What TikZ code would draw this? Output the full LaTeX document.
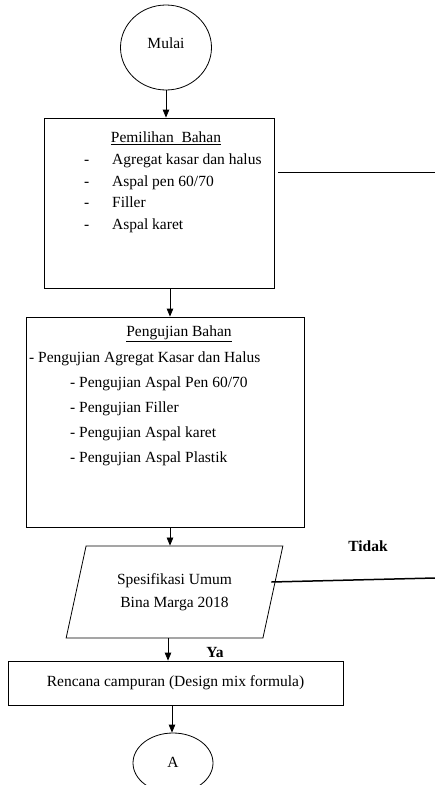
\documentclass[tikz,border=0pt]{standalone}
\usepackage{fontspec}
\setmainfont{Liberation Serif}
\usetikzlibrary{positioning, shapes.geometric, arrows.meta}

\begin{document}
\begin{tikzpicture}
    [x=1pt, y=-1pt,
    every node/.style={font=\fontsize{15.5pt}{22pt}\selectfont, inner sep=0pt},
    terminal/.style={ellipse, draw, line width=0.8pt},
    process/.style={rectangle, draw, line width=0.8pt},
    inout/.style={trapezium, draw, line width=0.8pt, trapezium left angle=72,
    trapezium right angle=108, trapezium stretches=true, inner sep=2pt},
    listing/.style={align=left, anchor=north west},
    answer/.style={font=\fontsize{15.5pt}{18pt}\selectfont\bfseries},
    arrow/.style={line width=0.8pt, -{Triangle[length=8pt, width=6.5pt]}}]
    \useasboundingbox (0,0) rectangle (435,785);
    \clip (0,0) rectangle (435,785);

    \node [terminal, minimum width=91pt, minimum height=85pt] (mulai) at (166,47.5) {};
    \node (mulai_text) at (166,43) {Mulai};

    % pemilihan bahan
    \node [process, minimum width=230pt, minimum height=170pt] (pemilihan) at (159,203) {};
    \node (pemilihan_title) at (166,138) {\underline{Pemilihan\ \ Bahan}};
    \node [listing, font=\fontsize{15.5pt}{21.5pt}\selectfont] (pemilihan_list) at (84,154)
    {\makebox[28pt][l]{-}Agregat kasar dan halus\\
    \makebox[28pt][l]{-}Aspal pen 60/70\\
    \makebox[28pt][l]{-}Filler\\
    \makebox[28pt][l]{-}Aspal karet};

    % pengujian bahan
    \node [process, minimum width=278pt, minimum height=210pt] (pengujian) at (165,422) {};
    \node (pengujian_title) at (179,334) {\underline{Pengujian Bahan}};
    \node [listing, font=\fontsize{15.5pt}{25pt}\selectfont] (pengujian_list) at (29,352)
    {- Pengujian Agregat Kasar dan Halus\\
    \hspace*{41pt}- Pengujian Aspal Pen 60/70\\
    \hspace*{41pt}- Pengujian Filler\\
    \hspace*{41pt}- Pengujian Aspal karet\\
    \hspace*{41pt}- Pengujian Aspal Plastik};

    % spesifikasi
    \node [inout, minimum width=217pt, minimum height=92pt, align=center,
    font=\fontsize{15.5pt}{23pt}\selectfont] (spesifikasi) at (174.5,592)
    {Spesifikasi Umum\\Bina Marga 2018};

    \node [process, minimum width=335pt, minimum height=44pt] (rencana) at (175.5,683)
    {Rencana campuran (Design mix formula)};
    \node [terminal, minimum width=80pt, minimum height=60pt] (a) at (173,763) {};
    \node (a_text) at (173,762) {A};

    \coordinate (back_top) at (435,172);
    \coordinate (back_bottom) at (435,578);

    \draw [arrow] (mulai.south) -- (mulai.south |- pemilihan.north);
    \draw [arrow] ([xshift=11pt]pemilihan.south) -- ([xshift=11pt]pemilihan.south |- pengujian.north);
    \draw [arrow] ([xshift=5pt]pengujian.south) -- ([xshift=5pt]pengujian.south |- spesifikasi.north);
    \draw [arrow] ([xshift=-6.5pt]spesifikasi.south) -- node [answer, anchor=west, xshift=38pt,
    yshift=-3pt] (ya) {Ya} ([xshift=-6.5pt]spesifikasi.south |- rencana.north);
    \draw [arrow] ([xshift=-3.5pt]rencana.south) -- ([xshift=-3.5pt]rencana.south |- a.north);
    \draw [line width=0.8pt] ([xshift=4pt]pemilihan.east |- back_top) -- (back_top);
    \draw [line width=1.5pt] ([xshift=-2pt, yshift=10pt]spesifikasi.east) -- (back_bottom);
    \node [answer] (tidak) at (368,546) {Tidak};
\end{tikzpicture}
\end{document}
